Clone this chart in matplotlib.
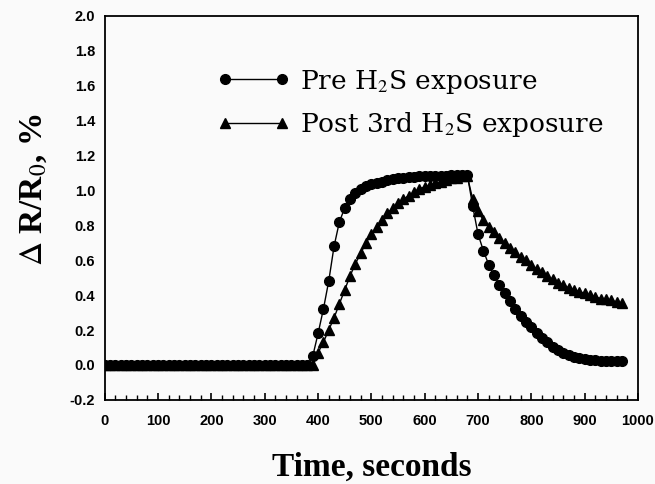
import matplotlib
matplotlib.use("Agg")
import matplotlib.pyplot as plt
from matplotlib.ticker import MultipleLocator

plt.rcParams['mathtext.fontset'] = 'stix'

# time base of the flat baseline and of the two curves, seconds
t_base = list(range(0, 390, 10))
pre_base = [0.0] * len(t_base)
post_base = [0.0] * len(t_base)

t_curve = list(range(390, 980, 10))
pre_curve = [0.05, 0.18, 0.32, 0.48, 0.68, 0.82, 0.90, 0.95, 0.985, 1.01,
             1.025, 1.035, 1.045, 1.05, 1.06, 1.065, 1.07, 1.07, 1.075, 1.075,
             1.08, 1.08, 1.08, 1.085, 1.085, 1.085, 1.09, 1.09, 1.09, 1.09,
             0.91, 0.75, 0.655, 0.575, 0.515, 0.46, 0.41, 0.365, 0.32, 0.28,
             0.245, 0.215, 0.185, 0.155, 0.13, 0.105, 0.085, 0.07, 0.055, 0.045,
             0.038, 0.032, 0.028, 0.026, 0.025, 0.025, 0.025, 0.025, 0.025]
post_curve = [0.0, 0.07, 0.13, 0.20, 0.27, 0.35, 0.43, 0.51, 0.58, 0.64,
              0.70, 0.75, 0.79, 0.83, 0.87, 0.90, 0.93, 0.95, 0.97, 0.99,
              1.01, 1.02, 1.03, 1.04, 1.05, 1.06, 1.07, 1.07, 1.08, 1.08,
              0.95, 0.88, 0.83, 0.79, 0.76, 0.73, 0.70, 0.67, 0.645, 0.62,
              0.60, 0.575, 0.55, 0.53, 0.51, 0.49, 0.47, 0.46, 0.44, 0.43,
              0.42, 0.41, 0.40, 0.39, 0.38, 0.375, 0.37, 0.36, 0.355]

t = t_base + t_curve
pre = pre_base + pre_curve
post = post_base + post_curve

fig = plt.figure(figsize=(6.55, 4.84), dpi=100)
fig.patch.set_facecolor('#fafafa')
ax = fig.add_axes([0.160, 0.174, 0.814, 0.793])
ax.set_facecolor('#fafafa')

ax.plot(t, pre, color='black', lw=1.0, marker='o', ms=7,
        label='Pre H$_2$S exposure')
ax.plot(t, post, color='black', lw=1.0, marker='^', ms=7,
        label='Post 3rd H$_2$S exposure')

ax.set_xlim(0, 1000)
ax.set_ylim(-0.2, 2.0)
ax.xaxis.set_minor_locator(MultipleLocator(20))
ax.tick_params(axis='x', which='major', direction='in', length=5, width=1.2, pad=10)
ax.tick_params(axis='x', which='minor', direction='in', length=3.5, width=1.0)
ax.tick_params(axis='y', which='major', direction='in', length=0, pad=7)
ax.set_xticks(range(0, 1001, 100))
ax.set_xticklabels([str(v) for v in range(0, 1001, 100)],
                   family='Liberation Sans', weight='bold', fontsize=10.5)
ax.set_yticks([-0.2, 0.0, 0.2, 0.4, 0.6, 0.8, 1.0, 1.2, 1.4, 1.6, 1.8, 2.0])
ax.set_yticklabels(['-0.2', '0.0', '0.2', '0.4', '0.6', '0.8', '1.0', '1.2',
                    '1.4', '1.6', '1.8', '2.0'], family='Liberation Sans',
                   weight='bold', fontsize=10.5)
for s in ax.spines.values():
    s.set_linewidth(1.3)

ax.set_xlabel('Time, seconds', family='Liberation Serif', weight='bold',
              fontsize=24)
ax.xaxis.set_label_coords(0.5, -0.135)
ax.set_ylabel('$\\Delta$ R/R$_0$, %', family='Liberation Serif', weight='bold',
              fontsize=24)
ax.yaxis.set_label_coords(-0.105, 0.547)

leg = ax.legend(loc='upper left', bbox_to_anchor=(0.186, 0.90), numpoints=2,
                frameon=False, handlelength=2.76, handletextpad=0.38,
                labelspacing=0.55, borderpad=0,
                prop={'family': 'DejaVu Serif', 'size': 19})

fig.savefig('out.png', dpi=100, facecolor=fig.get_facecolor())
